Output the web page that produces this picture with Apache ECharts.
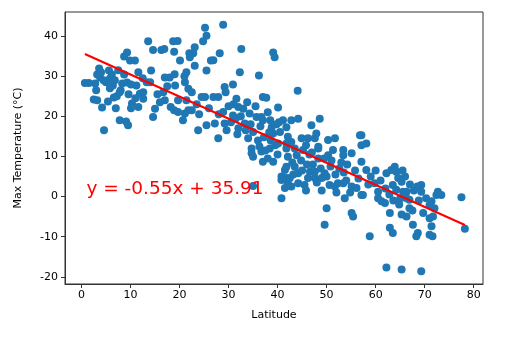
<!DOCTYPE html>
<html>
<head>
<meta charset="utf-8">
<script src="https://cdn.jsdelivr.net/npm/echarts@6/dist/echarts.min.js"></script>
<style>
  html, body { margin: 0; padding: 0; background: #ffffff; }
  #chart { width: 527px; height: 337px; }
</style>
</head>
<body>
<div id="chart"></div>
<script>
// City latitude (°N) and daily maximum temperature (°C), one entry per city
const latitudes = [
  0.7, 1.5, 2.8, 3.2, 3.6, 3.8, 2.5, 3.2, 4.2, 4.6, 5.6, 6.2, 5.8, 6.4, 5.0, 6.6, 7.2, 7.8, 9.1, 9.5,
  8.3, 9.3, 10.1, 8.7, 9.3, 9.9, 10.3, 10.1, 5.4, 7.0, 7.8, 8.7, 8.0, 5.8, 4.5,
  3.0, 6.8, 7.5, 9.6, 4.0,
  13.6, 14.6, 16.3, 16.9, 18.7, 19.6, 18.9, 20.1, 22.0, 22.8, 25.2, 25.5, 24.8, 23.1, 22.1, 23.1, 21.4, 25.5,
  11.6, 14.2, 10.9, 13.3, 17.0, 18.0, 21.1, 19.1, 16.7, 12.6, 11.9, 11.2, 12.6, 11.6, 15.0, 14.6, 17.0,
  18.2, 18.9, 19.7, 21.1, 21.8, 20.7, 22.5, 19.7, 21.4, 24.5, 25.2, 23.8, 25.5, 21.8, 26.4,
  24.0, 23.5, 22.5, 21.0, 19.0, 17.5, 16.0, 15.5, 14.0, 12.5, 11.0,
  28.9, 32.6, 28.2, 26.9, 39.1, 39.4, 32.3, 36.2, 30.9, 29.2, 29.4, 26.9, 27.9, 31.6, 37.0, 37.7, 40.1,
  32.0, 33.0, 28.9, 30.9, 34.3, 35.7, 36.7, 33.3, 37.0, 29.2, 27.2, 29.6, 27.9, 34.0, 38.8, 39.1, 40.5,
  41.1, 32.0, 35.0, 34.7, 38.4, 40.1,
  34.7, 35.0, 36.7, 37.0, 39.1, 40.8, 40.8, 40.8, 41.5, 42.1, 35.0,
  40.0, 39.5, 38.0, 37.5, 36.0, 33.5, 31.5, 30.0, 28.0, 26.0,
  31.0, 32.5, 33.8, 35.5, 36.5, 38.0, 38.5, 39.8, 31.8, 30.5, 34.5, 37.2, 38.6,
  36.3, 38.3, 40.3,
  44.1, 42.8, 44.2, 48.6, 46.9, 41.8, 42.1, 42.8, 44.9, 46.2, 47.6, 47.9, 50.3, 51.7, 56.8, 48.3, 53.4, 41.8,
  42.1, 43.9, 48.3, 48.3, 51.3, 55.1, 50.3, 53.4, 41.8, 43.5, 46.6, 47.6, 41.8, 42.5, 44.2, 42.8, 46.2,
  47.6, 49.6, 49.0, 50.6, 51.7, 52.3, 53.4, 53.7, 55.1, 55.1, 55.4, 50.0, 49.6, 56.1, 57.1, 45.5, 44.2,
  41.8, 45.2, 41.5,
  43.0, 44.8, 45.8, 46.5, 47.2, 48.8, 49.5, 50.8, 51.8, 52.6, 53.5, 54.2, 55.8, 56.5,
  43.5, 45.0, 46.0, 47.0, 48.0, 49.0, 50.0, 51.0, 52.0, 53.0, 54.0, 54.8, 43.2, 45.8,
  57.1, 58.1, 57.1, 57.1, 58.1, 57.4, 59.8, 60.5, 60.5, 61.2, 61.9, 62.2, 63.2, 63.9, 64.2, 64.6, 65.3,
  63.5, 64.2, 65.6, 66.3, 62.9, 65.3, 66.3, 67.6, 69.3, 69.3, 70.3, 71.4, 69.7, 71.0, 71.4, 71.0, 68.6,
  68.3, 58.8, 62.9, 63.5, 62.2, 65.3, 69.3, 66.9, 66.3, 66.9, 72.4, 72.7, 73.4, 77.5, 78.2, 71.7, 71.6,
  71.0, 72.0,
  58.5, 59.0, 60.0, 61.0, 62.0, 62.8, 63.6, 64.8, 65.5, 66.0, 67.0, 67.8, 68.5, 65.0, 67.5, 68.8
];
const maxTemps = [
  28.3, 28.3, 28.2, 30.4, 31.9, 29.7, 24.2, 24.0, 22.2, 16.5, 31.4, 30.4, 29.4, 27.7, 28.5, 24.7, 25.0, 19.0, 18.7, 17.8,
  28.2, 28.4, 27.9, 34.9, 35.9, 33.9, 23.2, 22.0, 23.7, 22.0, 26.0, 30.4, 26.5, 27.0, 29.0,
  26.5, 29.0, 31.5, 25.5, 31.0,
  38.7, 36.5, 36.5, 36.8, 38.7, 38.8, 36.1, 33.9, 35.7, 35.7, 42.1, 40.1, 38.7, 37.2, 34.7, 32.6, 31.0, 31.4,
  31.0, 31.4, 33.9, 28.5, 29.7, 29.7, 28.5, 27.7, 26.0, 26.0, 25.6, 27.7, 24.4, 22.3, 21.9, 19.8, 24.0,
  22.3, 21.5, 21.1, 20.7, 21.5, 19.0, 21.5, 24.0, 24.0, 24.8, 24.8, 16.5, 17.8, 26.9, 33.9,
  20.5, 23.0, 26.0, 30.0, 30.5, 27.5, 23.5, 25.5, 28.5, 29.5, 24.5,
  42.8, 36.8, 35.7, 34.0, 35.9, 34.7, 31.0, 30.2, 27.9, 27.3, 26.0, 24.8, 24.8, 24.4, 24.8, 24.6, 22.2,
  22.3, 21.9, 21.1, 20.2, 20.7, 19.8, 19.8, 18.2, 19.0, 18.2, 18.2, 16.5, 14.5, 14.5, 17.3, 15.7, 16.1,
  19.0, 17.0, 16.1, 12.0, 12.0, 13.2,
  10.8, 9.9, 11.2, 8.7, 8.7, 5.0, 4.1, -0.4, 6.6, 3.3, 2.6,
  10.5, 12.8, 9.5, 11.5, 14.0, 16.5, 19.5, 22.5, 20.5, 22.0,
  23.0, 20.0, 23.5, 22.5, 17.5, 21.0, 19.0, 18.0, 15.5, 18.5, 18.0, 14.8, 14.0,
  12.5, 16.0, 18.5,
  26.4, 19.0, 19.4, 19.4, 17.8, 17.3, 14.9, 13.6, 14.5, 14.5, 14.5, 15.7, 14.1, 14.5, 15.3, 12.4, 11.6, 13.2,
  9.9, 10.3, 12.0, 9.5, 11.6, 10.8, 10.3, 10.3, 7.4, 7.4, 6.2, 6.2, 4.6, 4.6, 3.3, 2.5, 4.6,
  4.6, 5.8, 4.6, 2.9, 2.5, 3.3, 3.3, -0.4, 2.5, -4.1, -5.0, -2.9, -7.0, 2.1, 0.4, 2.9, 5.8,
  12.0, 11.6, 2.1,
  8.5, 9.0, 12.8, 10.5, 8.0, 7.0, 9.5, 7.5, 5.5, 7.0, 6.0, 8.0, 6.5, 4.5,
  12.0, 6.5, 8.0, 11.0, 3.5, 1.5, 5.0, 9.0, 1.0, 8.5, 4.0, 1.0, 5.5, 1.5,
  15.3, 13.2, 12.8, 8.7, 6.6, 0.4, 3.3, 1.2, -0.4, -1.2, -1.6, 5.8, 6.6, 7.4, 6.2, 4.6, 3.7,
  2.9, 1.7, 1.2, 1.2, -4.1, -4.5, -5.0, -7.0, 2.9, 1.2, -0.4, -1.2, -4.1, -5.4, -7.4, -9.5, -9.1,
  -9.9, -9.9, -7.8, -9.1, -17.7, -18.2, -18.6, -2.9, -0.4, -0.8, 0.4, 1.2, 0.4, -0.2, -8.0, -5.0, -9.9,
  -2.1, -2.9,
  3.0, 5.0, 6.5, 4.0, 2.0, 0.5, -1.0, -2.0, 6.5, 5.0, 3.0, 1.5, 2.5, -0.5, -3.5, -1.0
];

// Least-squares fit shown on the chart
const slope = -0.55;
const intercept = 35.91;
const fitLabel = 'y = -0.55x + 35.91';

// Axis ticks and titles
const xTicks = [0, 10, 20, 30, 40, 50, 60, 70, 80];
const yTicks = [-20, -10, 0, 10, 20, 30, 40];
const xTitle = 'Latitude';
const yTitle = 'Max Temperature (°C)';

const points = latitudes.map((lat, i) => [lat, maxTemps[i]]);
const latMin = Math.min(...latitudes);
const latMax = Math.max(...latitudes);
const fitLine = [
  [latMin, slope * latMin + intercept],
  [latMax, slope * latMax + intercept]
];

const font = 'DejaVu Sans';
const frameColor = '#333333';

const chart = echarts.init(document.getElementById('chart'), null, { renderer: 'canvas' });

chart.setOption({
  animation: false,
  backgroundColor: '#ffffff',
  grid: {
    left: 65, right: 44, top: 12, bottom: 53,
    show: true, borderColor: frameColor, borderWidth: 1, backgroundColor: 'transparent'
  },
  xAxis: {
    type: 'value',
    min: -3.36, max: 81.9,
    name: xTitle,
    nameLocation: 'middle',
    nameGap: 26,
    nameTextStyle: { fontFamily: font, fontSize: 11, color: '#000' },
    axisLine: { show: true, onZero: false, lineStyle: { color: frameColor, width: 1 } },
    axisTick: { show: true, length: 4, customValues: xTicks, lineStyle: { color: frameColor } },
    axisLabel: { customValues: xTicks, margin: 6, fontFamily: font, fontSize: 11, color: '#000' },
    splitLine: { show: false }
  },
  yAxis: {
    type: 'value',
    min: -21.8, max: 46,
    name: yTitle,
    nameLocation: 'middle',
    nameGap: 41,
    nameRotate: 90,
    nameTextStyle: { fontFamily: font, fontSize: 11, color: '#000' },
    axisLine: { show: true, onZero: false, lineStyle: { color: frameColor, width: 1 } },
    axisTick: { show: true, length: 4, customValues: yTicks, lineStyle: { color: frameColor } },
    axisLabel: { customValues: yTicks, margin: 7, fontFamily: font, fontSize: 11, color: '#000' },
    splitLine: { show: false }
  },
  series: [
    {
      type: 'scatter',
      data: points,
      symbol: 'circle',
      symbolSize: 8,
      itemStyle: { color: '#1f77b4', opacity: 1 },
      z: 2
    },
    {
      type: 'line',
      data: fitLine,
      showSymbol: false,
      symbol: 'none',
      lineStyle: { color: '#ff0000', width: 2 },
      z: 3
    }
  ]
});

// Equation of the fit, written at (1, 0) in data space
const anchor = chart.convertToPixel({ gridIndex: 0 }, [1, 0]);
chart.setOption({
  graphic: [{
    type: 'text',
    x: anchor[0],
    y: anchor[1] + 2,
    z: 10,
    style: {
      text: fitLabel,
      fontFamily: font,
      fontSize: 18.5,
      fill: '#ff0000',
      textAlign: 'left',
      textVerticalAlign: 'bottom'
    }
  }]
});
</script>
</body>
</html>
